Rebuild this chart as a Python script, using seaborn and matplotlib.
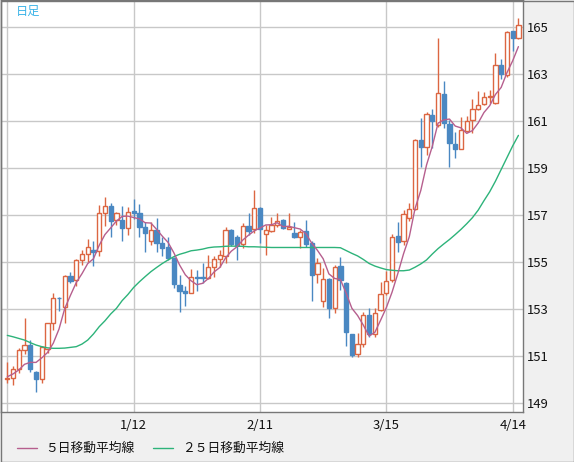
import numpy as np
import pandas as pd
import matplotlib
matplotlib.use("Agg")
import matplotlib.pyplot as plt
from matplotlib.lines import Line2D
from matplotlib.patches import Rectangle
import seaborn as sns

# ---------------- data ----------------
opens = [150.02, 150.06, 150.46, 151.25, 151.48, 150.33, 150.05, 151.32, 152.40, 153.50,
         153.08, 154.43, 154.24, 155.10, 155.35, 155.52, 155.48, 157.08, 157.39, 156.80,
         156.80, 156.44, 157.18, 157.08, 156.51, 155.92, 156.37, 155.83, 155.66, 155.17,
         154.02, 153.78, 153.71, 154.37, 154.37, 154.32, 154.78, 155.12, 155.28, 156.37,
         156.06, 155.76, 156.54, 156.40, 157.29, 156.19, 156.34, 156.59, 156.80, 156.43,
         156.26, 156.06, 156.33, 155.83, 154.50, 153.37, 154.27, 153.07, 154.84, 154.10,
         151.95, 151.08, 151.51, 152.76, 151.93, 152.97, 153.68, 154.24, 156.12, 155.90,
         156.87, 157.25, 160.20, 159.89, 161.27, 160.84, 162.16, 160.89, 160.03, 159.81,
         160.60, 161.06, 161.51, 161.72, 162.02, 161.76, 163.40, 162.96, 164.84, 164.53]
highs = [150.77, 150.59, 151.34, 152.64, 151.69, 150.36, 151.44, 152.43, 153.71, 153.54,
         154.46, 154.57, 155.14, 155.52, 155.98, 155.90, 157.44, 157.79, 157.51, 157.15,
         157.39, 157.37, 157.69, 157.48, 156.73, 156.73, 156.87, 156.09, 156.06, 155.24,
         154.46, 154.00, 154.70, 154.67, 154.96, 155.31, 155.27, 155.52, 156.51, 156.40,
         156.16, 156.68, 157.08, 158.07, 157.36, 156.59, 156.94, 157.08, 156.83, 157.08,
         156.73, 156.37, 156.80, 155.90, 155.17, 154.74, 154.32, 154.88, 155.21, 154.17,
         151.97, 151.98, 152.90, 153.04, 153.04, 154.17, 154.63, 156.20, 156.73, 157.22,
         157.54, 160.23, 161.13, 161.41, 161.51, 164.53, 162.73, 161.06, 160.56, 161.17,
         161.23, 161.93, 162.30, 162.26, 162.33, 163.89, 163.64, 164.84, 164.86, 165.38]
lows = [149.85, 149.78, 150.27, 151.10, 150.34, 149.49, 149.88, 151.12, 152.12, 152.94,
        152.40, 154.13, 153.99, 154.88, 155.02, 154.84, 155.27, 156.54, 156.09, 156.59,
        155.92, 156.16, 156.83, 156.09, 155.45, 155.73, 155.45, 155.27, 155.10, 153.89,
        152.90, 153.12, 153.68, 153.79, 154.10, 154.27, 154.39, 154.78, 154.95, 155.69,
        155.10, 155.59, 156.16, 156.23, 155.83, 155.31, 156.30, 156.51, 156.40, 156.40,
        156.02, 155.59, 155.66, 153.37, 154.13, 153.08, 152.64, 152.83, 153.82, 151.45,
        150.98, 150.98, 151.41, 151.83, 151.83, 152.93, 153.61, 154.17, 155.45, 155.73,
        156.77, 157.22, 159.04, 159.57, 159.85, 160.74, 160.70, 159.04, 159.42, 159.81,
        160.56, 160.52, 161.48, 161.69, 161.76, 161.74, 162.79, 162.90, 164.01, 164.49]
closes = [150.06, 150.44, 151.27, 151.48, 150.46, 150.05, 151.41, 152.40, 153.46, 153.47,
          154.43, 154.22, 155.10, 155.35, 155.63, 155.45, 157.08, 157.39, 156.77, 157.08,
          156.44, 157.15, 157.08, 156.49, 156.26, 156.37, 155.80, 155.62, 155.17, 154.06,
          153.77, 153.71, 154.36, 154.34, 154.34, 154.78, 155.12, 155.31, 156.37, 155.78,
          155.73, 156.54, 156.34, 157.29, 156.40, 156.37, 156.59, 156.77, 156.44, 156.50,
          156.06, 156.30, 155.78, 154.46, 154.95, 154.27, 153.07, 154.81, 154.24, 152.05,
          151.05, 151.52, 152.76, 151.93, 152.83, 153.63, 154.20, 156.06, 155.88, 157.05,
          157.25, 160.20, 159.89, 161.30, 161.01, 162.19, 160.91, 160.06, 159.81, 160.63,
          161.01, 161.51, 161.69, 162.02, 162.08, 163.40, 163.01, 164.81, 164.56, 165.10]
ma5_head = [150.13, 150.25, 150.42, 150.66]
ma25 = [151.89, 151.83, 151.76, 151.69, 151.58, 151.48, 151.41, 151.36, 151.34, 151.34,
        151.35, 151.38, 151.41, 151.52, 151.69, 151.95, 152.26, 152.51, 152.80, 153.04,
        153.37, 153.63, 153.93, 154.17, 154.39, 154.60, 154.78, 154.95, 155.10, 155.24,
        155.34, 155.41, 155.49, 155.52, 155.56, 155.62, 155.65, 155.66, 155.68, 155.69,
        155.68, 155.68, 155.66, 155.66, 155.65, 155.64, 155.63, 155.63, 155.63, 155.63,
        155.63, 155.63, 155.63, 155.63, 155.63, 155.63, 155.63, 155.63, 155.62, 155.50,
        155.38, 155.27, 155.12, 154.95, 154.84, 154.76, 154.69, 154.66, 154.64, 154.64,
        154.67, 154.79, 154.93, 155.10, 155.35, 155.58, 155.78, 155.97, 156.18, 156.40,
        156.64, 156.90, 157.22, 157.62, 158.00, 158.45, 158.95, 159.45, 159.95, 160.40]
date_ticks = [0, 22, 44, 66, 88]
date_labels = ["", "1/12", "2/11", "3/15", "4/14"]
price_ticks = [149, 151, 153, 155, 157, 159, 161, 163, 165]
legend_labels = ["５日移動平均線", "２５日移動平均線"]
title_text = "日足"

# ---------------- styling ----------------
sns.set_theme(style="white")
plt.rcParams["font.family"] = ["Noto Sans CJK JP", "DejaVu Sans"]

RED = "#dc6642"
BLUE = "#4a88c2"
MA5_C = "#b65f8e"
MA25_C = "#2db37a"
GRID = "#c8c8c8"
EDGE = "#777777"

W, H = 574, 462
fig = plt.figure(figsize=(W / 100, H / 100), dpi=100, facecolor="#f0f0f0")
ax = fig.add_axes([1 / W, 50 / H, 522 / W, 412 / H])
ax.set_facecolor("white")

df = pd.DataFrame({"i": np.arange(len(closes)), "open": opens, "high": highs,
                   "low": lows, "close": closes, "ma25": ma25})
ma5 = df["close"].rolling(5).mean().to_numpy()
ma5[:4] = ma5_head
df["ma5"] = ma5

up = df["close"] >= df["open"]
colors = np.where(up, RED, BLUE)

# wicks
ax.vlines(df["i"], df["low"], df["high"], colors=colors, linewidth=1.0, zorder=3)
# bodies
bottoms = np.minimum(df["open"], df["close"])
heights = np.maximum(np.abs(df["close"] - df["open"]), 0.02)
ax.bar(df["i"], heights, bottom=bottoms, width=0.74,
       color=np.where(up, "white", BLUE), edgecolor=colors, linewidth=1.0, zorder=4)

# moving averages
sns.lineplot(data=df, x="i", y="ma25", ax=ax, color=MA25_C, linewidth=1.0,
             legend=False, zorder=5)
sns.lineplot(data=df, x="i", y="ma5", ax=ax, color=MA5_C, linewidth=1.0,
             legend=False, zorder=5)

ax.set_xlim(-1.1, 89.8)
ax.set_ylim(148.63, 166.16)
ax.set_xticks(date_ticks)
ax.set_xticklabels(date_labels)
ax.set_yticks(price_ticks)
ax.set_yticklabels([str(p) for p in price_ticks])
ax.yaxis.tick_right()
ax.grid(True, color=GRID, linewidth=1.0, zorder=0)
ax.set_axisbelow(True)
ax.tick_params(axis="both", length=0, labelsize=9.4, colors="#111111")
ax.tick_params(axis="y", pad=3)
ax.tick_params(axis="x", pad=5)
ax.set_xlabel("")
ax.set_ylabel("")
for s in ax.spines.values():
    s.set_color(EDGE)
    s.set_linewidth(1.0)
    s.set_visible(True)

# title label
fig.text(16 / W, 1 - 11 / H, title_text, color="#3cb4e8", fontsize=8.8,
         ha="left", va="center")

# legend
ly = 1 - 448 / H
fig.add_artist(Line2D([16.5 / W, 36.6 / W], [ly, ly], color=MA5_C, linewidth=1.0))
fig.text(45 / W, ly, legend_labels[0], fontsize=9.2, ha="left", va="center",
         color="#111111")
fig.add_artist(Line2D([153 / W, 173 / W], [ly, ly], color=MA25_C, linewidth=1.0))
fig.text(182 / W, ly, legend_labels[1], fontsize=9.2, ha="left", va="center",
         color="#111111")

# outer frame
fig.add_artist(Rectangle((0.5 / W, 0.5 / H), (W - 1) / W, (H - 1) / H,
                         transform=fig.transFigure, fill=False, edgecolor=EDGE,
                         linewidth=1.0))

fig.savefig("out.png", dpi=100, facecolor=fig.get_facecolor())
